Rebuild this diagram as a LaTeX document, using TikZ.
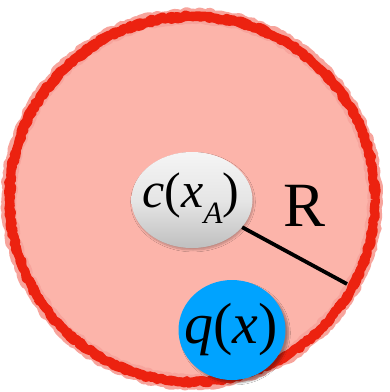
\documentclass[tikz,border=0pt]{standalone}
\usepackage{fontspec}
\setmainfont{Liberation Serif}
\usetikzlibrary{shapes.geometric,decorations.pathmorphing,shadows.blur}
\definecolor{pinkfill}{HTML}{FCB4AA}
\definecolor{rimred}{HTML}{EC2210}
\definecolor{rimlight}{HTML}{F7A49C}
\definecolor{qblue}{HTML}{00A3FF}
\tikzset{
  rimhalo/.style={draw=rimlight, line width=15pt, line join=round, decorate,
    decoration={random steps, segment length=3pt, amplitude=1.5pt}},
  rimmain/.style={draw=rimred, line width=9pt, line join=round, decorate,
    decoration={random steps, segment length=3pt, amplitude=1.4pt}},
  ctextstyle/.style={font=\fontsize{50}{52}\selectfont, inner sep=0pt},
  qtextstyle/.style={font=\fontsize{58}{60}\selectfont, inner sep=0pt},
  rtextstyle/.style={font=\fontsize{63}{65}\selectfont, inner sep=0pt},
  grayball/.style={ellipse, minimum width=121pt, minimum height=96pt, inner sep=0pt,
    top color=black!4, bottom color=black!25, middle color=black!10,
    blur shadow={shadow xshift=1pt, shadow yshift=-2pt, shadow blur steps=6, shadow opacity=25}},
  blueball/.style={ellipse, minimum width=107pt, minimum height=100pt, inner sep=0pt,
    fill=qblue,
    blur shadow={shadow xshift=3pt, shadow yshift=-3pt, shadow blur steps=8, shadow opacity=35}},
  radius line/.style={draw=black, line width=3.8pt}
}
\begin{document}
\begin{tikzpicture}[x=1pt,y=-1pt]
\pgfmathsetseed{11}
\useasboundingbox[fill=white] (0,0) rectangle (390,392);
\node[circle, minimum size=366pt, fill=pinkfill, inner sep=0pt] (big) at (192,199) {};
\draw[rimhalo] (192,199) circle[radius=183pt];
\draw[rimmain] (192,199) circle[radius=183pt];
\draw[rimmain, line width=6pt] (192.5,199.5) circle[radius=181pt];
\node[grayball] (cx) at (192,200) {};
\node[ctextstyle] (ctext) at (191,198) {\itshape c\upshape(\itshape x\raisebox{-16pt}{\fontsize{31}{31}\selectfont\itshape A}\upshape)};
\coordinate (rend) at (347,284);
\draw[radius line] (cx) -- (rend);
\node[rtextstyle] (rlabel) at (305,206) {R};
\node[blueball] (q) at (232,330) {};
\node[qtextstyle] (qtext) at (231,330) {\itshape q\upshape(\itshape x\upshape)};
\end{tikzpicture}
\end{document}
